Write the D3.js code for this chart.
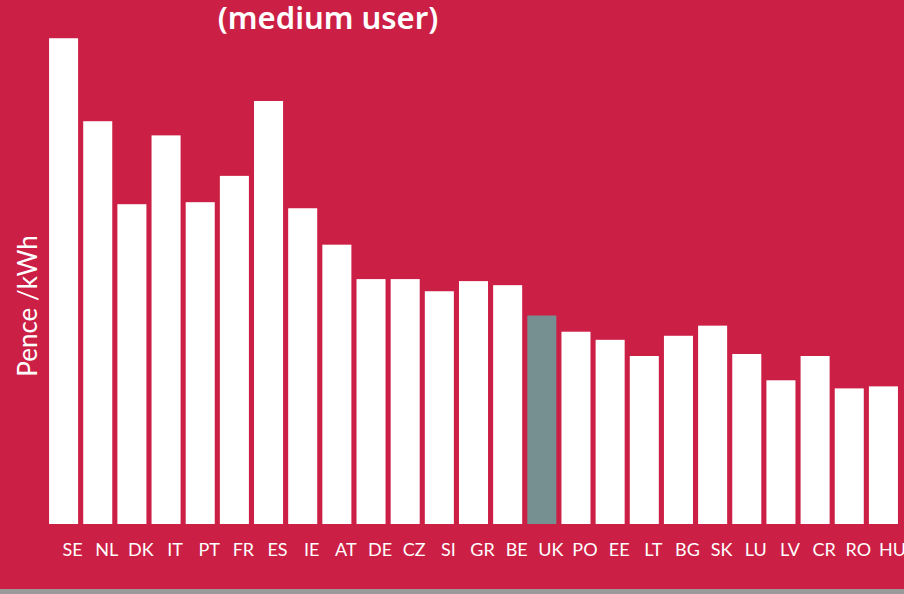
<!DOCTYPE html>
<html>
<head>
<meta charset="utf-8">
<script src="https://cdn.jsdelivr.net/npm/d3@7"></script>
<style>
  body { margin: 0; padding: 0; overflow: hidden; }
  svg { display: block; }
</style>
</head>
<body>
<div id="chart"></div>
<script>
// countries and prices (pence / kWh)
const countries = ["SE", "NL", "DK", "IT", "PT", "FR", "ES", "IE", "AT", "DE", "CZ", "SI", "GR",
    "BE", "UK", "PO", "EE", "LT", "BG", "SK", "LU", "LV", "CR", "RO", "HU"];
const prices = [24.0, 19.9, 15.8, 19.2, 15.9, 17.2, 20.9, 15.6, 13.8, 12.1, 12.1, 11.5, 12.0,
    11.8, 10.3, 9.5, 9.1, 8.3, 9.3, 9.8, 8.4, 7.1, 8.3, 6.7, 6.8];
const highlight = "UK";
const yTitle = "Pence /kWh";
const subTitle = "(medium user)";

function init() {
    const w = 904;
    const h = 594;

    const svg = d3.select("#chart")
        .append("svg")
        .attr("width", w)
        .attr("height", h);

    svg.append("rect")
        .attr("width", w)
        .attr("height", h)
        .attr("fill", "#cc1f45");

    // grey strip along the bottom
    svg.append("rect")
        .attr("y", 589)
        .attr("width", w)
        .attr("height", h - 589)
        .attr("fill", "#9a9a9a");

    const x = d3.scaleBand()
        .domain(countries)
        .range([46.5, 900.5])
        .paddingInner(0.15)
        .paddingOuter(0.075);

    const y = d3.scaleLinear()
        .domain([0, 25])
        .range([524, 18]);

    svg.selectAll("rect.bar")
        .data(countries)
        .enter()
        .append("rect")
        .attr("class", "bar")
        .attr("x", d => x(d))
        .attr("width", x.bandwidth())
        .attr("y", (d, i) => y(prices[i]))
        .attr("height", (d, i) => y(0) - y(prices[i]))
        .attr("fill", d => d === highlight ? "#768f91" : "#ffffff");

    // country labels
    svg.append("g")
        .attr("transform", "translate(9, 530)")
        .call(d3.axisBottom(x).tickSize(0).tickPadding(10))
        .call(g => g.select(".domain").remove())
        .selectAll("text")
        .attr("fill", "#ffffff")
        .attr("font-family", "Lato, sans-serif")
        .attr("font-size", 18)
        .attr("dy", "0.9em");

    svg.append("text")
        .attr("transform", "translate(37, 306) rotate(-90)")
        .attr("text-anchor", "middle")
        .attr("fill", "#ffffff")
        .attr("font-family", "Lato, sans-serif")
        .attr("font-size", 26)
        .text(yTitle);

    svg.append("text")
        .attr("x", 328)
        .attr("y", 29)
        .attr("text-anchor", "middle")
        .attr("fill", "#ffffff")
        .attr("font-family", "'Noto Sans', sans-serif")
        .attr("font-weight", 600)
        .attr("font-size", 31)
        .text(subTitle);
}

window.onload = init;
</script>
</body>
</html>
